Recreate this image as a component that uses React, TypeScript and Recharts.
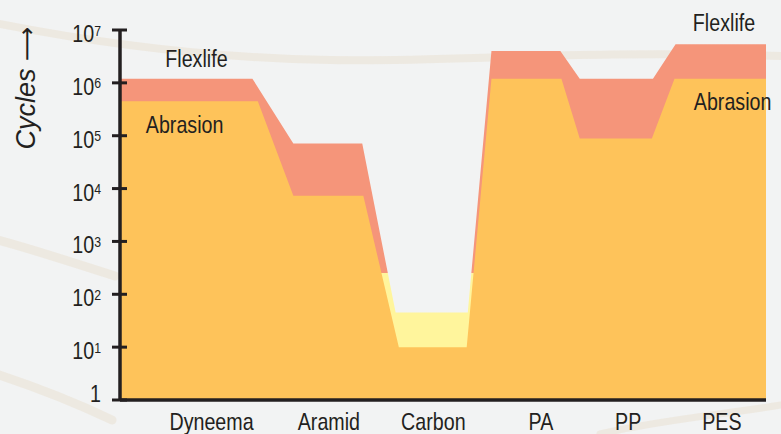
import { AreaChart, Area, XAxis, YAxis, ReferenceDot } from "recharts";

const categories = ["Dyneema", "Aramid", "Carbon", "PA", "PP", "PES"];
const labelPos = [0.85, 1.94, 2.91, 3.91, 4.72, 5.59];

// cycles per material
const flexlife = [1.2e6, 7.1e4, 45, 4e6, 1.2e6, 5.4e6];
const abrasion = [4.5e5, 7.3e3, 10, 1.2e6, 8.9e4, 1.2e6];

// plateau spans along the x axis (0..6)
const flexStart = [0, 1.61, 2.56, 3.45, 4.27, 5.16];
const flexEnd = [1.23, 2.25, 3.23, 4.09, 4.95, 6];
const abrStart = [0, 1.61, 2.59, 3.45, 4.27, 5.15];
const abrEnd = [1.28, 2.26, 3.22, 4.1, 4.94, 6];

const yTicks = [1, 10, 100, 1e3, 1e4, 1e5, 1e6, 1e7];

const FONT = "'Liberation Sans', Arial, sans-serif";
const INK = "#231f20";
const NARROW = 0.82;
const TICK_SIZE = 8;
const TICK_MARGIN = 11;

type Pt = { x: number; flex?: number; abr?: number };

const buildPoints = () => {
  const map = new Map<number, Pt>();
  const put = (x: number, key: "flex" | "abr", v: number) => {
    const p = map.get(x) || { x };
    p[key] = v;
    map.set(x, p);
  };
  categories.forEach((_, i) => {
    put(flexStart[i], "flex", flexlife[i]);
    put(flexEnd[i], "flex", flexlife[i]);
    put(abrStart[i], "abr", abrasion[i]);
    put(abrEnd[i], "abr", abrasion[i]);
  });
  return Array.from(map.values()).sort((a, b) => a.x - b.x);
};

const data = buildPoints();

// condensed text (no narrow font installed, so squeeze Liberation Sans)
const NarrowText = ({
  x,
  y,
  anchor = "middle",
  size = 24,
  children,
}: {
  x: number;
  y: number;
  anchor?: "start" | "middle" | "end";
  size?: number;
  children: React.ReactNode;
}) => (
  <text
    transform={`translate(${x}, ${y}) scale(${NARROW}, 1)`}
    textAnchor={anchor}
    fontSize={size}
    fill={INK}
    fontFamily={FONT}
  >
    {children}
  </text>
);

// eslint-disable-next-line @typescript-eslint/no-explicit-any
const YTick = (props: any) => {
  const { x, y, payload } = props;
  const v = payload.value as number;
  const exp = Math.round(Math.log10(v));
  const axisX = x + TICK_SIZE + TICK_MARGIN;
  return (
    <g>
      <line x1={axisX - 8} x2={axisX + 7} y1={y} y2={y} stroke={INK} strokeWidth={3} />
      <NarrowText x={x} y={exp === 0 ? y + 2 : y + 12} anchor="end">
        {exp === 0 ? (
          "1"
        ) : (
          <>
            10
            <tspan fontSize={15} dy={-6.5}>
              {exp}
            </tspan>
          </>
        )}
      </NarrowText>
    </g>
  );
};

// eslint-disable-next-line @typescript-eslint/no-explicit-any
const XTick = (props: any) => {
  const { x, y, payload } = props;
  const idx = labelPos.indexOf(payload.value);
  return (
    <NarrowText x={x} y={y + 30}>
      {categories[idx]}
    </NarrowText>
  );
};

// eslint-disable-next-line @typescript-eslint/no-explicit-any
const note = (text: string) => (props: any) => {
  const { viewBox } = props;
  const cx = viewBox.x + (viewBox.width || 0) / 2;
  const cy = viewBox.y + (viewBox.height || 0) / 2;
  return (
    <NarrowText x={cx} y={cy + 8.5}>
      {text}
    </NarrowText>
  );
};

const App = () => {
  return (
    <div
      style={{
        position: "absolute",
        left: 0,
        top: 0,
        width: 781,
        height: 434,
        background: "#f2f3f3",
        overflow: "hidden",
      }}
    >
      {/* faint rope texture behind the chart */}
      <svg width={781} height={434} style={{ position: "absolute", left: 0, top: 0 }}>
        <g fill="none" strokeLinecap="round" stroke="#e6d8c0" strokeOpacity={0.35}>
          <path d="M -10 22 C 80 40, 200 58, 330 60 S 560 50, 781 56" strokeWidth={8} />
          <path d="M -10 238 C 30 248, 70 262, 115 276" strokeWidth={9} />
          <path d="M -10 372 C 30 385, 70 400, 112 420" strokeWidth={9} />
          <path d="M 600 434 C 660 420, 720 415, 781 405" strokeWidth={7} />
        </g>
      </svg>
      <AreaChart
        width={781}
        height={434}
        data={data}
        margin={{ top: 30, right: 15, left: 0, bottom: 0 }}
        style={{ position: "absolute", left: 0, top: 0 }}
      >
        <defs>
          <linearGradient id="flexFill" x1="0" y1="0" x2="0" y2="1">
            <stop offset="0.643" stopColor="#f5957a" />
            <stop offset="0.643" stopColor="#fff59c" />
          </linearGradient>
        </defs>
        <Area
          type="linear"
          dataKey="flex"
          baseValue={1}
          fill="url(#flexFill)"
          fillOpacity={1}
          stroke="none"
          connectNulls
          dot={false}
          activeDot={false}
          isAnimationActive={false}
        />
        <Area
          type="linear"
          dataKey="abr"
          baseValue={1}
          fill="#fec35a"
          fillOpacity={1}
          stroke="none"
          connectNulls
          dot={false}
          activeDot={false}
          isAnimationActive={false}
        />
        <XAxis
          dataKey="x"
          type="number"
          domain={[0, 6]}
          ticks={labelPos}
          height={34}
          tickLine={false}
          tickSize={0}
          tickMargin={0}
          tick={<XTick />}
          axisLine={{ stroke: INK, strokeWidth: 3.5 }}
          interval={0}
        />
        <YAxis
          type="number"
          scale="log"
          domain={[1, 1e7]}
          ticks={yTicks}
          allowDataOverflow
          width={120}
          tickLine={false}
          tickSize={TICK_SIZE}
          tickMargin={TICK_MARGIN}
          tick={<YTick />}
          axisLine={{ stroke: INK, strokeWidth: 3.5 }}
          interval={0}
          label={{
            content: () => (
              <text
                transform="translate(35, 88) rotate(-90)"
                textAnchor="middle"
                fontSize={27}
                fontStyle="italic"
                fill={INK}
                fontFamily={FONT}
              >
                Cycles{" "}
                <tspan fontStyle="normal" fontFamily="'DejaVu Sans', sans-serif" fontSize={24}>
                  ⟶
                </tspan>
              </text>
            ),
          }}
        />
        <ReferenceDot x={0.71} y={2.95e6} r={0} ifOverflow="visible" label={{ content: note("Flexlife") }} />
        <ReferenceDot x={0.6} y={1.66e5} r={0} ifOverflow="visible" label={{ content: note("Abrasion") }} />
        <ReferenceDot x={5.61} y={1.4e7} r={0} ifOverflow="visible" label={{ content: note("Flexlife") }} />
        <ReferenceDot x={5.69} y={4.5e5} r={0} ifOverflow="visible" label={{ content: note("Abrasion") }} />
      </AreaChart>
    </div>
  );
};

export default App;
